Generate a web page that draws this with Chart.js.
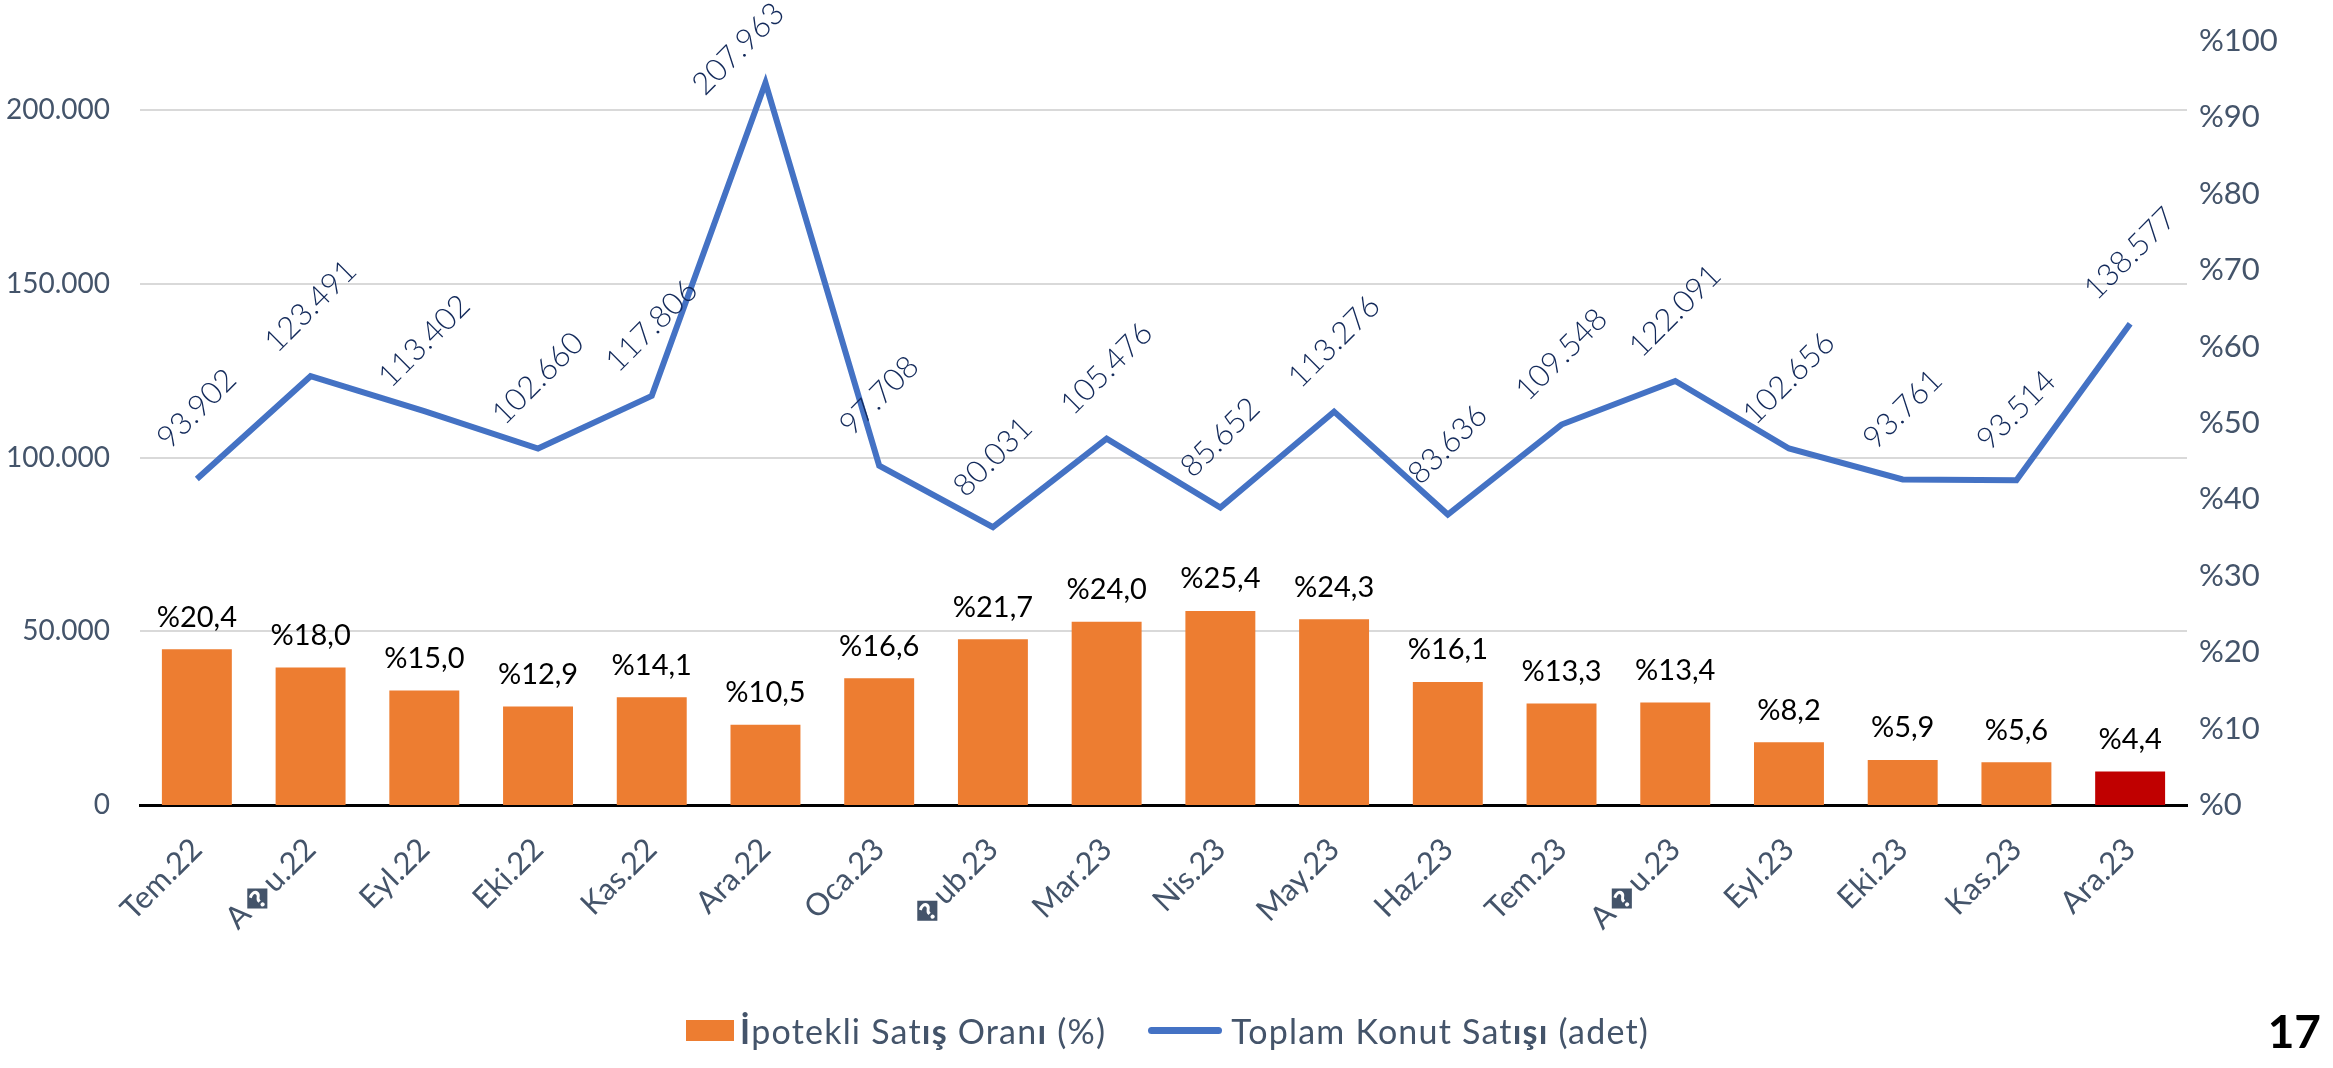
<!DOCTYPE html>
<html lang="tr">
<head>
<meta charset="utf-8">
<title>İpotekli Satış Oranı ve Toplam Konut Satışı</title>
<script src="https://cdn.jsdelivr.net/npm/chart.js@4.4.1/dist/chart.umd.min.js"></script>
<style>
    html, body { margin: 0; padding: 0; background: #fff; }
    #sahne { position: relative; width: 2333px; height: 1068px; overflow: hidden; }
    #grafik { position: absolute; left: 0; top: 0; }
    .lejant {
        position: absolute; top: 1010px; left: 686px;
        display: flex; align-items: center;
        font-family: Lato, "Open Sans", sans-serif; font-size: 34px; letter-spacing: 1.2px; color: #44546A;
        white-space: nowrap;
    }
    .lejant b { font-weight: 700; }
    .kutu { display: inline-block; width: 48px; height: 21px; background: #ED7D31; margin-right: 6px; }
    .cizgi { display: inline-block; width: 74px; height: 7px; border-radius: 4px; background: #4472C4; margin-left: 42px; margin-right: 9px; }
    .sayfa { position: absolute; right: 12px; top: 1003px; font-family: Lato, sans-serif; font-weight: 700; font-size: 46px; color: #000; }
</style>
</head>
<body>
<div id="sahne">
    <canvas id="grafik" width="2333" height="1068"></canvas>
    <div class="lejant">
        <span class="kutu"></span><span><b>İ</b>potekli Sat<b>ış</b> Oran<b>ı</b> (%)</span>
        <span class="cizgi"></span><span>Toplam Konut Sat<b>ışı</b> (adet)</span>
    </div>
    <div class="sayfa">17</div>
</div>
<script>
// Veriler
const aylar = ['Tem.22', 'A\uFFFDu.22', 'Eyl.22', 'Eki.22', 'Kas.22', 'Ara.22',
    'Oca.23', '\uFFFDub.23', 'Mar.23', 'Nis.23', 'May.23', 'Haz.23',
    'Tem.23', 'A\uFFFDu.23', 'Eyl.23', 'Eki.23', 'Kas.23', 'Ara.23'];
const ipotekliOran = [20.4, 18.0, 15.0, 12.9, 14.1, 10.5, 16.6, 21.7, 24.0, 25.4, 24.3, 16.1, 13.3, 13.4, 8.2, 5.9, 5.6, 4.4];
const toplamSatis = [93902, 123491, 113402, 102660, 117806, 207963, 97708, 80031, 105476, 85652, 113276, 83636, 109548, 122091, 102656, 93761, 93514, 138577];
const solEksenTikleri = [0, 50000, 100000, 150000, 200000];
const sagEksenTikleri = [0, 10, 20, 30, 40, 50, 60, 70, 80, 90, 100];

const YAZI = 'Lato, "Open Sans", sans-serif';

// 93902 -> "93.902"
function binlik(v) {
    return String(v).replace(/\B(?=(\d{3})+(?!\d))/g, '.');
}

// Çubuk ve çizgi üzerindeki değer etiketleri
const etiketEklentisi = {
    id: 'etiketler',
    afterDatasetsDraw(chart) {
        const ctx = chart.ctx;
        const alan = chart.chartArea;
        ctx.save();

        ctx.font = '29px ' + YAZI;
        ctx.fillStyle = '#000000';
        ctx.textAlign = 'center';
        ctx.textBaseline = 'middle';
        chart.getDatasetMeta(0).data.forEach((cubuk, i) => {
            ctx.fillText('%' + ipotekliOran[i].toFixed(1).replace('.', ','), cubuk.x, cubuk.y - 32);
        });

        ctx.font = '300 31px ' + YAZI;
        ctx.fillStyle = '#12295A';
        chart.getDatasetMeta(1).data.forEach((nokta, i) => {
            let cx = nokta.x;
            let cy = nokta.y - 70;
            const enAz = alan.top + 8;
            if (cy < enAz) {
                // grafik alanının içinde kalsın diye metin yönünde kaydır
                const fark = enAz - cy;
                cy += fark;
                cx -= fark * 0.75;
            }
            ctx.save();
            ctx.translate(cx, cy);
            ctx.rotate(-Math.PI / 4);
            ctx.fillText(binlik(toplamSatis[i]), 0, 0);
            ctx.restore();
        });

        ctx.restore();
    }
};

const grafik = new Chart(document.getElementById('grafik'), {
    data: {
        labels: aylar,
        datasets: [
            {
                type: 'bar',
                label: 'İpotekli Satış Oranı (%)',
                data: ipotekliOran,
                yAxisID: 'yOran',
                backgroundColor: ipotekliOran.map((_, i) => i === ipotekliOran.length - 1 ? '#C00000' : '#ED7D31'),
                barPercentage: 0.615,
                categoryPercentage: 1,
                order: 2
            },
            {
                type: 'line',
                label: 'Toplam Konut Satışı (adet)',
                data: toplamSatis,
                yAxisID: 'ySatis',
                borderColor: '#4472C4',
                borderWidth: 6,
                pointRadius: 0,
                tension: 0,
                fill: false,
                order: 1
            }
        ]
    },
    options: {
        responsive: false,
        animation: false,
        devicePixelRatio: 1,
        layout: { padding: { top: 41, left: 0, right: 0, bottom: 0 } },
        plugins: {
            legend: { display: false },
            tooltip: { enabled: false }
        },
        scales: {
            x: {
                grid: { display: false, drawTicks: false },
                border: { display: true, color: '#000000', width: 3 },
                ticks: {
                    color: '#44546A',
                    font: { family: YAZI, size: 31 },
                    minRotation: 45,
                    maxRotation: 45,
                    padding: 26,
                    autoSkip: false
                },
                afterFit(olcek) { olcek.height = 263; }
            },
            ySatis: {
                position: 'left',
                min: 0,
                max: 220000,
                afterBuildTicks(olcek) { olcek.ticks = solEksenTikleri.map(v => ({ value: v })); },
                grid: { color: '#D9D9D9', lineWidth: 2, drawTicks: false },
                border: { display: false },
                ticks: {
                    color: '#44546A',
                    font: { family: YAZI, size: 28 },
                    padding: 30,
                    callback: v => binlik(v)
                },
                afterFit(olcek) {
                    olcek.width = 140;
                    // etiket boşluğu grafik alanının üstünü aşağı itmesin
                    olcek.paddingTop = 20;
                    olcek.paddingBottom = 20;
                }
            },
            yOran: {
                position: 'right',
                min: 0,
                max: 100,
                afterBuildTicks(olcek) { olcek.ticks = sagEksenTikleri.map(v => ({ value: v })); },
                grid: { display: false, drawTicks: false },
                border: { display: false },
                ticks: {
                    color: '#44546A',
                    font: { family: YAZI, size: 31 },
                    padding: 12,
                    callback: v => '%' + v
                },
                afterFit(olcek) { olcek.width = 146; }
            }
        }
    },
    plugins: [etiketEklentisi]
});
</script>
</body>
</html>
